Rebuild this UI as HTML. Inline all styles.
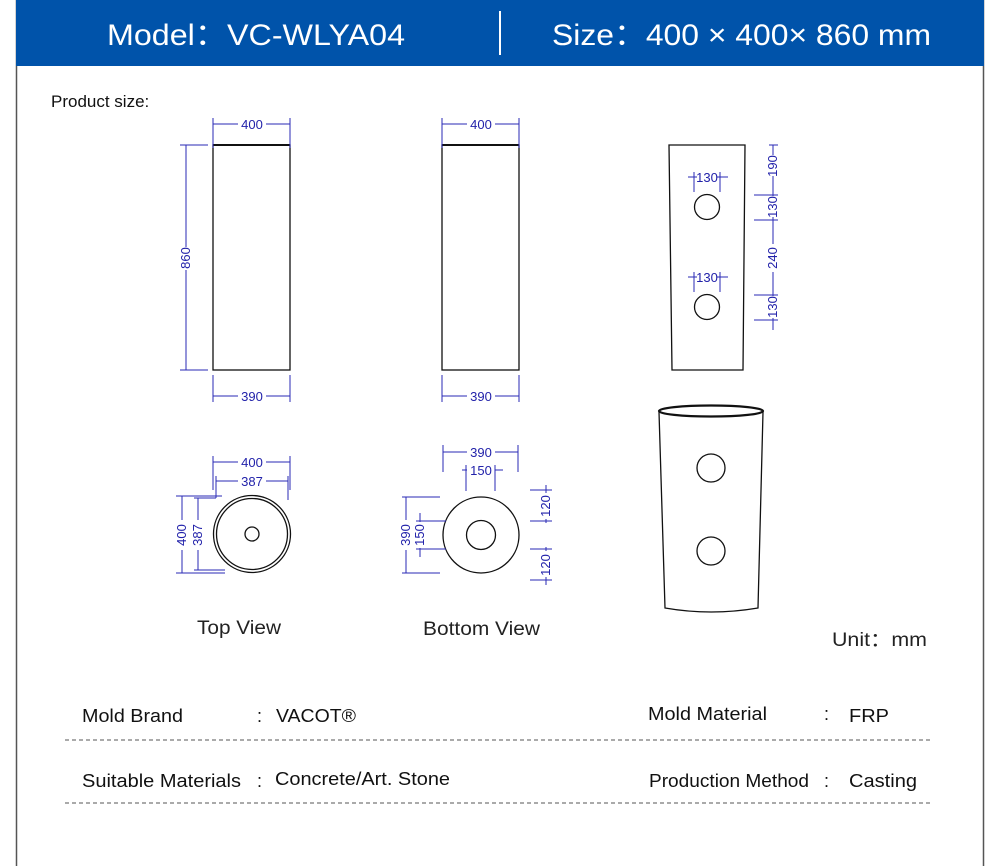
<!DOCTYPE html>
<html><head><meta charset="utf-8"><style>
html,body{margin:0;padding:0;background:#fff;}
svg{display:block;font-family:"Liberation Sans",sans-serif;}
</style></head><body>
<svg width="1000" height="866" viewBox="0 0 1000 866" xmlns="http://www.w3.org/2000/svg">
<rect x="0" y="0" width="1000" height="866" fill="#fff"/>
<line x1="16.5" y1="0" x2="16.5" y2="866" stroke="#555" stroke-width="1.5"/>
<line x1="983.5" y1="0" x2="983.5" y2="866" stroke="#555" stroke-width="1.5"/>
<rect x="16" y="0" width="968" height="66" fill="#0053aa"/>
<text x="107" y="45" fill="#fff" font-size="30" textLength="298" lengthAdjust="spacingAndGlyphs">Model：VC-WLYA04</text>
<line x1="500" y1="11" x2="500" y2="55" stroke="#fff" stroke-width="2"/>
<text x="552" y="45" fill="#fff" font-size="30" textLength="379" lengthAdjust="spacingAndGlyphs">Size：400 × 400× 860 mm</text>
<text x="51" y="107" fill="#111" font-size="17">Product size:</text>

<g fill="none" stroke="#111" stroke-width="1.3">
<rect x="213" y="145" width="77" height="225"/>
<line x1="213" y1="145" x2="290" y2="145" stroke-width="2"/>
<rect x="442" y="145" width="77" height="225"/>
<line x1="442" y1="145" x2="519" y2="145" stroke-width="2"/>
<polygon points="669,145 745,145 743,370 672,370"/>
<circle cx="707" cy="207" r="12.5"/>
<circle cx="707" cy="307" r="12.5"/>
<ellipse cx="711" cy="411" rx="52" ry="5.5" stroke-width="2.2"/>
<path d="M659,412 L665,608 Q711,616 758,608 L763,412"/>
<circle cx="711" cy="468" r="14"/>
<circle cx="711" cy="551" r="14"/>
<circle cx="252" cy="534" r="38.5"/>
<circle cx="252" cy="534" r="35.5"/>
<circle cx="252" cy="534" r="7"/>
<circle cx="481" cy="535" r="38"/>
<circle cx="481" cy="535" r="14.5"/>
</g>

<g stroke="#2a2ab5" stroke-width="1" fill="none">
<path d="M213,118V148 M290,118V148 M213,124H238 M266,124H290"/>
<path d="M180,145H208 M180,370H208 M186,145V247 M186,270V370"/>
<path d="M213,375V402 M290,375V402 M213,396H238 M266,396H290"/>
<path d="M442,118V148 M519,118V148 M442,124H467 M495,124H519"/>
<path d="M442,375V402 M519,375V402 M442,396H467 M495,396H519"/>
<path d="M694,172V192 M720,172V192 M688,177H697 M717,177H728"/>
<path d="M694,272V292 M720,272V292 M688,277H697 M717,277H728"/>
<path d="M773,145V155 M773,176V196 M773,217V244 M773,272V296 M773,318V330"/>
<path d="M769,145H778 M754,195H778 M754,220H778 M754,295H778 M754,320H778"/>
<path d="M213,456V490 M290,456V490 M213,462H238 M266,462H290"/>
<path d="M216,476V498 M288,476V500 M216,481H238 M266,481H288"/>
<path d="M176,496H222 M176,573H225 M182,496V520 M182,550V573"/>
<path d="M194,498H216 M194,570H225 M198,498V520 M198,550V570"/>
<path d="M443,445V472 M518,445V472 M443,452H467 M495,452H518"/>
<path d="M466,465V491 M495,465V491 M462,470H467 M495,470H503"/>
<path d="M402,497H440 M402,573H440 M406,497V520 M406,550V573"/>
<path d="M416,521H446 M416,549H446 M420,513V522 M420,548V557"/>
<path d="M530,490H552 M530,521H552 M530,549H552 M530,580H552"/>
<path d="M546,485V493 M546,519V523 M546,547V551 M546,577V585"/>
</g>

<g fill="#2222aa" font-size="13">
<text x="252" y="129" text-anchor="middle">400</text>
<text x="481" y="129" text-anchor="middle">400</text>
<text x="252" y="401" text-anchor="middle">390</text>
<text x="481" y="401" text-anchor="middle">390</text>
<text transform="translate(190,258) rotate(-90)" text-anchor="middle">860</text>
<text x="707" y="182" text-anchor="middle">130</text>
<text x="707" y="282" text-anchor="middle">130</text>
<text transform="translate(777,166) rotate(-90)" text-anchor="middle">190</text>
<text transform="translate(777,207) rotate(-90)" text-anchor="middle">130</text>
<text transform="translate(777,258) rotate(-90)" text-anchor="middle">240</text>
<text transform="translate(777,307) rotate(-90)" text-anchor="middle">130</text>
<text x="252" y="467" text-anchor="middle">400</text>
<text x="252" y="486" text-anchor="middle">387</text>
<text transform="translate(186,535) rotate(-90)" text-anchor="middle">400</text>
<text transform="translate(202,535) rotate(-90)" text-anchor="middle">387</text>
<text x="481" y="457" text-anchor="middle">390</text>
<text x="481" y="475" text-anchor="middle">150</text>
<text transform="translate(410,535) rotate(-90)" text-anchor="middle">390</text>
<text transform="translate(424,535) rotate(-90)" text-anchor="middle">150</text>
<text transform="translate(550,506) rotate(-90)" text-anchor="middle">120</text>
<text transform="translate(550,565) rotate(-90)" text-anchor="middle">120</text>
</g>

<g fill="#222" font-size="19">
<text x="197" y="634" textLength="84" lengthAdjust="spacingAndGlyphs">Top View</text>
<text x="423" y="635" textLength="117" lengthAdjust="spacingAndGlyphs">Bottom View</text>
<text x="832" y="646" textLength="95" lengthAdjust="spacingAndGlyphs">Unit：mm</text>
</g>

<g fill="#111" font-size="18">
<text x="82" y="722" textLength="101" lengthAdjust="spacingAndGlyphs">Mold Brand</text>
<text x="257" y="722">:</text>
<text x="276" y="722" textLength="80" lengthAdjust="spacingAndGlyphs">VACOT®</text>
<text x="648" y="720" textLength="119" lengthAdjust="spacingAndGlyphs">Mold Material</text>
<text x="824" y="720">:</text>
<text x="849" y="722" textLength="40" lengthAdjust="spacingAndGlyphs">FRP</text>
<text x="82" y="787" textLength="159" lengthAdjust="spacingAndGlyphs">Suitable Materials</text>
<text x="257" y="787">:</text>
<text x="275" y="785" textLength="175" lengthAdjust="spacingAndGlyphs">Concrete/Art. Stone</text>
<text x="649" y="787" textLength="160" lengthAdjust="spacingAndGlyphs">Production Method</text>
<text x="824" y="787">:</text>
<text x="849" y="787" textLength="68" lengthAdjust="spacingAndGlyphs">Casting</text>
</g>
<g stroke="#555" stroke-width="1" stroke-dasharray="4,3">
<line x1="65" y1="740" x2="933" y2="740"/>
<line x1="65" y1="803" x2="933" y2="803"/>
</g>
</svg>
</body></html>
